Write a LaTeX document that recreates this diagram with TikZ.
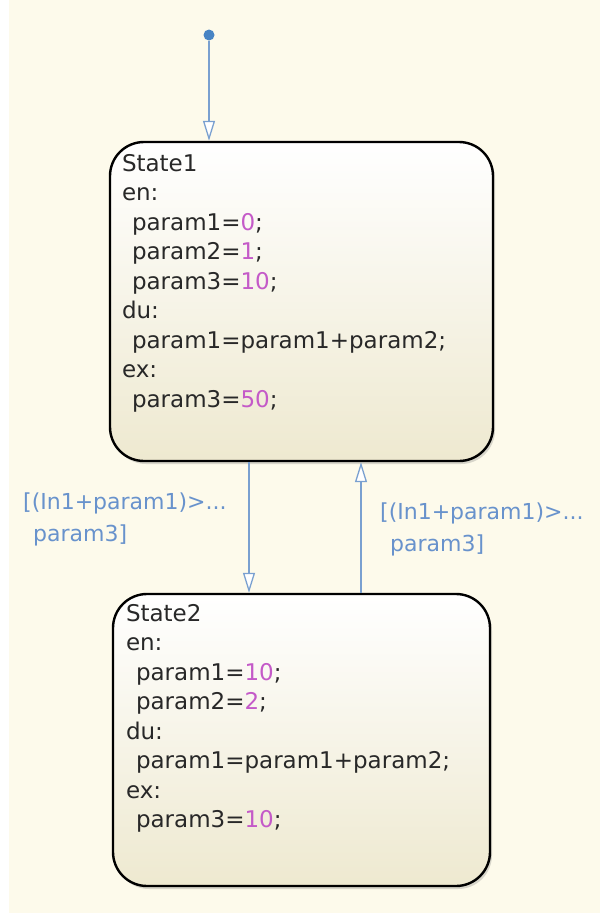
\documentclass[tikz,border=0pt]{standalone}
\usepackage{fontspec}
\setmainfont{DejaVu Sans}
\usepackage{xcolor}
\usepackage{tikz}
\usetikzlibrary{positioning,arrows.meta,calc,shadows}
\definecolor{chartbg}{RGB}{253,250,235}
\definecolor{statebot}{RGB}{238,233,208}
\definecolor{trblue}{RGB}{122,160,208}
\definecolor{guardblue}{RGB}{104,146,204}
\definecolor{dotblue}{RGB}{72,132,196}
\definecolor{valmag}{RGB}{196,90,200}
\definecolor{codegray}{RGB}{40,40,40}
\newcommand{\val}[1]{\textcolor{valmag}{#1}}
\newcommand{\ind}{\hspace*{10pt}}

\begin{document}
\begin{tikzpicture}[x=1pt, y=-1pt,
      state/.style={draw=black, line width=2.4pt, rounded corners=34pt,
                    top color=white, bottom color=statebot,
                    drop shadow={shadow xshift=2pt, shadow yshift=-3pt, opacity=.3}},
      code/.style={inner sep=0pt, align=left, text=codegray, font=\fontsize{23}{29.5}\selectfont},
      guard/.style={inner sep=0pt, align=left, text=guardblue, font=\fontsize{22}{32}\selectfont},
      tr/.style={trblue, line width=1.3pt, -{Triangle[open, length=20pt, width=12pt, fill=white]}}]
    \fill[chartbg] (0,0) rectangle (600,913);
    \fill[white] (0,0) rectangle (9,913);
    \useasboundingbox (0,0) rectangle (600,913);

    \node[state, minimum width=383pt, minimum height=319pt] (s1) at (301.5,301.5) {};
    \node[code, anchor=north west] (s1txt) at ($(s1.north west)+(13,13)$)
         {State1\\en:\\\ind param1=\val{0};\\\ind param2=\val{1};\\\ind param3=\val{10};\\
          du:\\\ind param1=param1+param2;\\ex:\\\ind param3=\val{50};};

    \node[state, minimum width=377pt, minimum height=292pt] (s2) at (301.5,740) {};
    \node[code, anchor=north west] (s2txt) at ($(s2.north west)+(14,11)$)
         {State2\\en:\\\ind param1=\val{10};\\\ind param2=\val{2};\\
          du:\\\ind param1=param1+param2;\\ex:\\\ind param3=\val{10};};

    \node[circle, fill=dotblue, inner sep=0pt, minimum size=11pt] (init) at (209,35) {};
    \coordinate (dnx) at (249,0);
    \coordinate (upx) at (361,0);

    \draw[tr] (init) -- (init |- s1.north);
    \draw[tr] (s1.south -| dnx) -- (s2.north -| dnx);
    \draw[tr] (s2.north -| upx) -- (s1.south -| upx);

    \node[guard, anchor=north west] (g12) at (23,493) {[(In1+param1)>...\\\ind param3]};
    \node[guard, anchor=north west] (g21) at (380,503) {[(In1+param1)>...\\\ind param3]};
  \end{tikzpicture}
\end{document}
